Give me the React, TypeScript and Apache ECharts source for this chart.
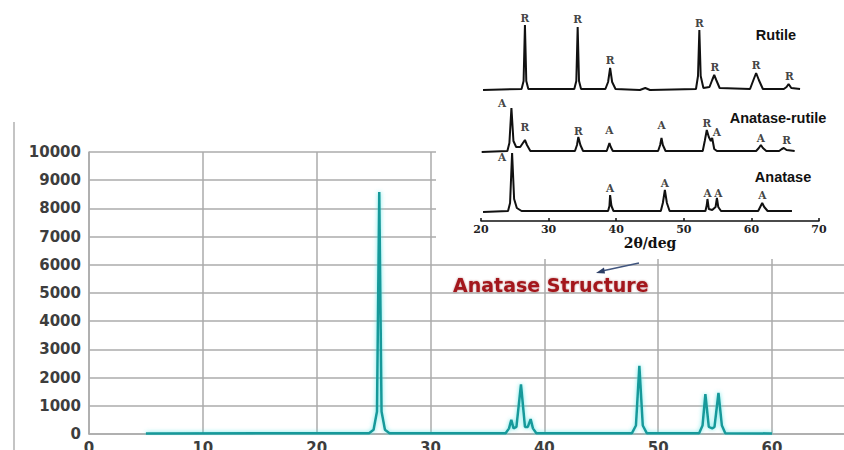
import React, { useEffect, useRef } from 'react';
import * as echarts from 'echarts';

// Main XRD pattern (2θ in degrees, intensity in counts)
const mainPattern: [number, number][] = [
  [5, 20], [24.6, 30], [25.0, 150], [25.3, 800], [25.5, 8580], [25.7, 800], [26.0, 150], [26.4, 30],
  [36.6, 30], [36.9, 200], [37.1, 500], [37.3, 200], [37.55, 250], [37.95, 1760], [38.3, 250],
  [38.55, 250], [38.8, 530], [39.0, 200], [39.3, 30],
  [47.7, 30], [48.05, 300], [48.35, 2420], [48.65, 300], [49.0, 30],
  [53.6, 30], [53.9, 300], [54.15, 1410], [54.45, 250], [54.75, 200], [54.95, 250], [55.3, 1460],
  [55.6, 300], [55.9, 30], [60, 20],
];

// Inset reference patterns (stacked, arbitrary units)
const rutilePattern: [number, number][] = [
  [20.3, 131], [26.0, 132], [26.3, 140], [26.5, 196], [26.7, 140], [27.0, 132],
  [33.8, 132], [34.1, 140], [34.3, 194], [34.5, 140], [34.8, 132],
  [38.4, 132], [38.8, 139], [39.1, 153], [39.4, 139], [39.9, 132],
  [43.5, 131], [44.3, 133], [45.0, 131],
  [51.8, 132], [52.1, 145], [52.3, 191], [52.5, 145], [52.9, 133],
  [53.8, 134], [54.2, 141], [54.5, 146], [54.8, 141], [55.3, 133],
  [59.8, 132], [60.3, 141], [60.7, 148], [61.1, 141], [61.7, 132],
  [64.8, 132], [65.2, 134], [65.5, 137], [65.9, 133], [67.2, 132],
];
const mixedPattern: [number, number][] = [
  [20.1, 69], [23.9, 70], [24.2, 78], [24.5, 113], [24.8, 80], [25.2, 74], [25.8, 74],
  [26.2, 78], [26.5, 81], [26.8, 76], [27.3, 70],
  [33.9, 70], [34.2, 76], [34.4, 84], [34.7, 76], [35.1, 70],
  [38.6, 70], [38.8, 74], [39.0, 78], [39.2, 74], [39.5, 70],
  [46.2, 70], [46.5, 76], [46.7, 83], [46.9, 76], [47.3, 70],
  [52.8, 70], [53.1, 80], [53.4, 91], [53.7, 84], [54.0, 80], [54.2, 83], [54.5, 72], [54.9, 70],
  [60.7, 70], [61.1, 73], [61.4, 76], [61.7, 73], [62.2, 70],
  [64.1, 70], [64.5, 72], [64.8, 73], [65.2, 71], [66.4, 70],
];
const anatasePattern: [number, number][] = [
  [20.3, 9], [24.0, 10], [24.3, 18], [24.6, 68], [24.9, 22], [25.3, 13], [26.0, 10],
  [38.8, 10], [39.0, 15], [39.1, 26], [39.3, 15], [39.6, 10],
  [46.6, 10], [46.9, 18], [47.2, 31], [47.5, 18], [47.9, 10],
  [53.2, 10], [53.4, 16], [53.5, 22], [53.7, 12], [54.2, 11], [54.7, 14], [54.9, 23], [55.1, 14], [55.5, 10],
  [61.0, 10], [61.3, 14], [61.6, 18], [61.9, 14], [62.4, 10],
  [66.0, 10],
];

// Peak phase markers in the inset: [2θ, height, letter]
const rutileMarks: [number, number, string][] = [
  [26.5, 203, 'R'], [34.3, 202, 'R'], [39.1, 161, 'R'], [52.3, 198, 'R'],
  [54.6, 154, 'R'], [60.7, 156, 'R'], [65.6, 145, 'R'],
];
const mixedMarks: [number, number, string][] = [
  [23.1, 118, 'A'], [26.5, 94, 'R'], [34.4, 90, 'R'], [39.0, 91, 'A'], [46.7, 96, 'A'],
  [53.4, 98, 'R'], [54.9, 89, 'A'], [61.4, 83, 'A'], [65.2, 81, 'R'],
];
const anataseMarks: [number, number, string][] = [
  [23.1, 64, 'A'], [39.1, 33, 'A'], [47.2, 38, 'A'], [53.5, 28, 'A'], [55.1, 28, 'A'], [61.6, 26, 'A'],
];

const insetNames = ['Rutile', 'Anatase-rutile', 'Anatase'];
const annotation = 'Anatase Structure';
const insetAxisName = '2θ/deg';

const gridGray = '#ababab';
const labelFont = 'DejaVu Sans';

function markSeries(marks: [number, number, string][]) {
  return {
    type: 'scatter',
    xAxisIndex: 1,
    yAxisIndex: 1,
    z: 6,
    symbolSize: 1,
    itemStyle: { color: 'transparent' },
    silent: true,
    data: marks.map((m) => [m[0], m[1], m[2]]),
    label: {
      show: true,
      position: 'inside',
      formatter: (p: any) => p.data[2],
      fontFamily: 'DejaVu Serif',
      fontWeight: 'bold',
      fontSize: 10.5,
      color: '#111',
    },
  };
}

function traceSeries(data: [number, number][]) {
  return {
    type: 'line',
    xAxisIndex: 1,
    yAxisIndex: 1,
    z: 5,
    showSymbol: false,
    silent: true,
    data,
    lineStyle: { color: '#111', width: 2 },
  };
}

export default function App() {
  const ref = useRef<HTMLDivElement>(null);
  useEffect(() => {
    const chart = echarts.init(ref.current!, null, { renderer: 'svg' });
    chart.setOption({
      animation: false,
      backgroundColor: '#fff',
      grid: [
        { left: 89, top: 152, width: 796.8, height: 282, outerBoundsMode: 'none', containLabel: false },
        { left: 481, top: 0, width: 338, height: 221, outerBoundsMode: 'none', containLabel: false },
      ],
      xAxis: [
        {
          type: 'value',
          gridIndex: 0,
          min: 0,
          max: 70,
          interval: 10,
          z: 0,
          axisLine: { show: true, lineStyle: { color: gridGray, width: 1.5 } },
          axisTick: { show: false },
          axisLabel: { margin: 6, fontFamily: labelFont, fontWeight: 'bold', fontSize: 15, color: '#3d3d3d' },
          splitLine: { show: true, lineStyle: { color: gridGray, width: 1.5 } },
        },
        {
          type: 'value',
          gridIndex: 1,
          min: 20,
          max: 70,
          interval: 10,
          z: 3,
          name: insetAxisName,
          nameLocation: 'middle',
          nameGap: 15,
          nameTextStyle: { fontFamily: 'DejaVu Serif', fontWeight: 'bold', fontSize: 14, color: '#111' },
          axisLine: { show: true, lineStyle: { color: '#111', width: 1.5 } },
          axisTick: { show: true, inside: true, length: 3, lineStyle: { color: '#111', width: 1.5 } },
          axisLabel: { margin: 3, fontFamily: 'DejaVu Serif', fontWeight: 'bold', fontSize: 11, color: '#222' },
          splitLine: { show: false },
        },
      ],
      yAxis: [
        {
          type: 'value',
          gridIndex: 0,
          min: 0,
          max: 10000,
          interval: 1000,
          z: 0,
          axisLine: { show: true, lineStyle: { color: gridGray, width: 1.5 } },
          axisTick: { show: false },
          axisLabel: {
            margin: 8, fontFamily: labelFont, fontWeight: 'bold', fontSize: 15, color: '#3d3d3d',
            formatter: (v: number) => String(v),
          },
          splitLine: { show: true, lineStyle: { color: gridGray, width: 1.5 } },
        },
        {
          type: 'value',
          gridIndex: 1,
          min: 0,
          max: 221,
          show: false,
          splitLine: { show: false },
        },
      ],
      series: [
        {
          type: 'line',
          xAxisIndex: 0,
          yAxisIndex: 0,
          z: 2,
          showSymbol: false,
          silent: true,
          data: mainPattern,
          lineStyle: {
            color: '#17999a',
            width: 2.5,
            shadowColor: 'rgba(70,225,225,0.8)',
            shadowBlur: 4,
          },
        },
        traceSeries(rutilePattern),
        traceSeries(mixedPattern),
        traceSeries(anatasePattern),
        markSeries(rutileMarks),
        markSeries(mixedMarks),
        markSeries(anataseMarks),
      ],
      graphic: [
        { type: 'rect', z: 1, shape: { x: 436, y: 0, width: 408, height: 259 }, style: { fill: '#fff' } },
        { type: 'line', z: 1, shape: { x1: 14, y1: 122, x2: 14, y2: 450 }, style: { stroke: '#c4c4c4', lineWidth: 2 } },
        {
          type: 'text', z: 10, x: 776, y: 35,
          style: { text: insetNames[0], fontFamily: 'Liberation Sans', fontWeight: 'bold', fontSize: 14.5, fill: '#111', align: 'center', verticalAlign: 'middle' },
        },
        {
          type: 'text', z: 10, x: 778, y: 118,
          style: { text: insetNames[1], fontFamily: 'Liberation Sans', fontWeight: 'bold', fontSize: 14.5, fill: '#111', align: 'center', verticalAlign: 'middle' },
        },
        {
          type: 'text', z: 10, x: 783, y: 177,
          style: { text: insetNames[2], fontFamily: 'Liberation Sans', fontWeight: 'bold', fontSize: 14.5, fill: '#111', align: 'center', verticalAlign: 'middle' },
        },
        {
          type: 'text', z: 10, x: 453, y: 285,
          style: {
            text: annotation, fontFamily: 'DejaVu Sans', fontWeight: 'bold', fontSize: 19, fill: '#a3161a',
            align: 'left', verticalAlign: 'middle', textShadowColor: 'rgba(110,0,0,0.45)', textShadowBlur: 2,
          },
        },
        { type: 'line', z: 10, shape: { x1: 639, y1: 263, x2: 602, y2: 271 }, style: { stroke: '#41557e', lineWidth: 1.5 } },
        { type: 'polygon', z: 10, shape: { points: [[596, 273], [604, 267.5], [605, 273.5]] }, style: { fill: '#2d3f66' } },
      ],
    });
    return () => chart.dispose();
  }, []);
  return (
    <div
      ref={ref}
      style={{ position: 'fixed', left: 0, top: 0, width: 844, height: 450, background: '#fff' }}
    />
  );
}
